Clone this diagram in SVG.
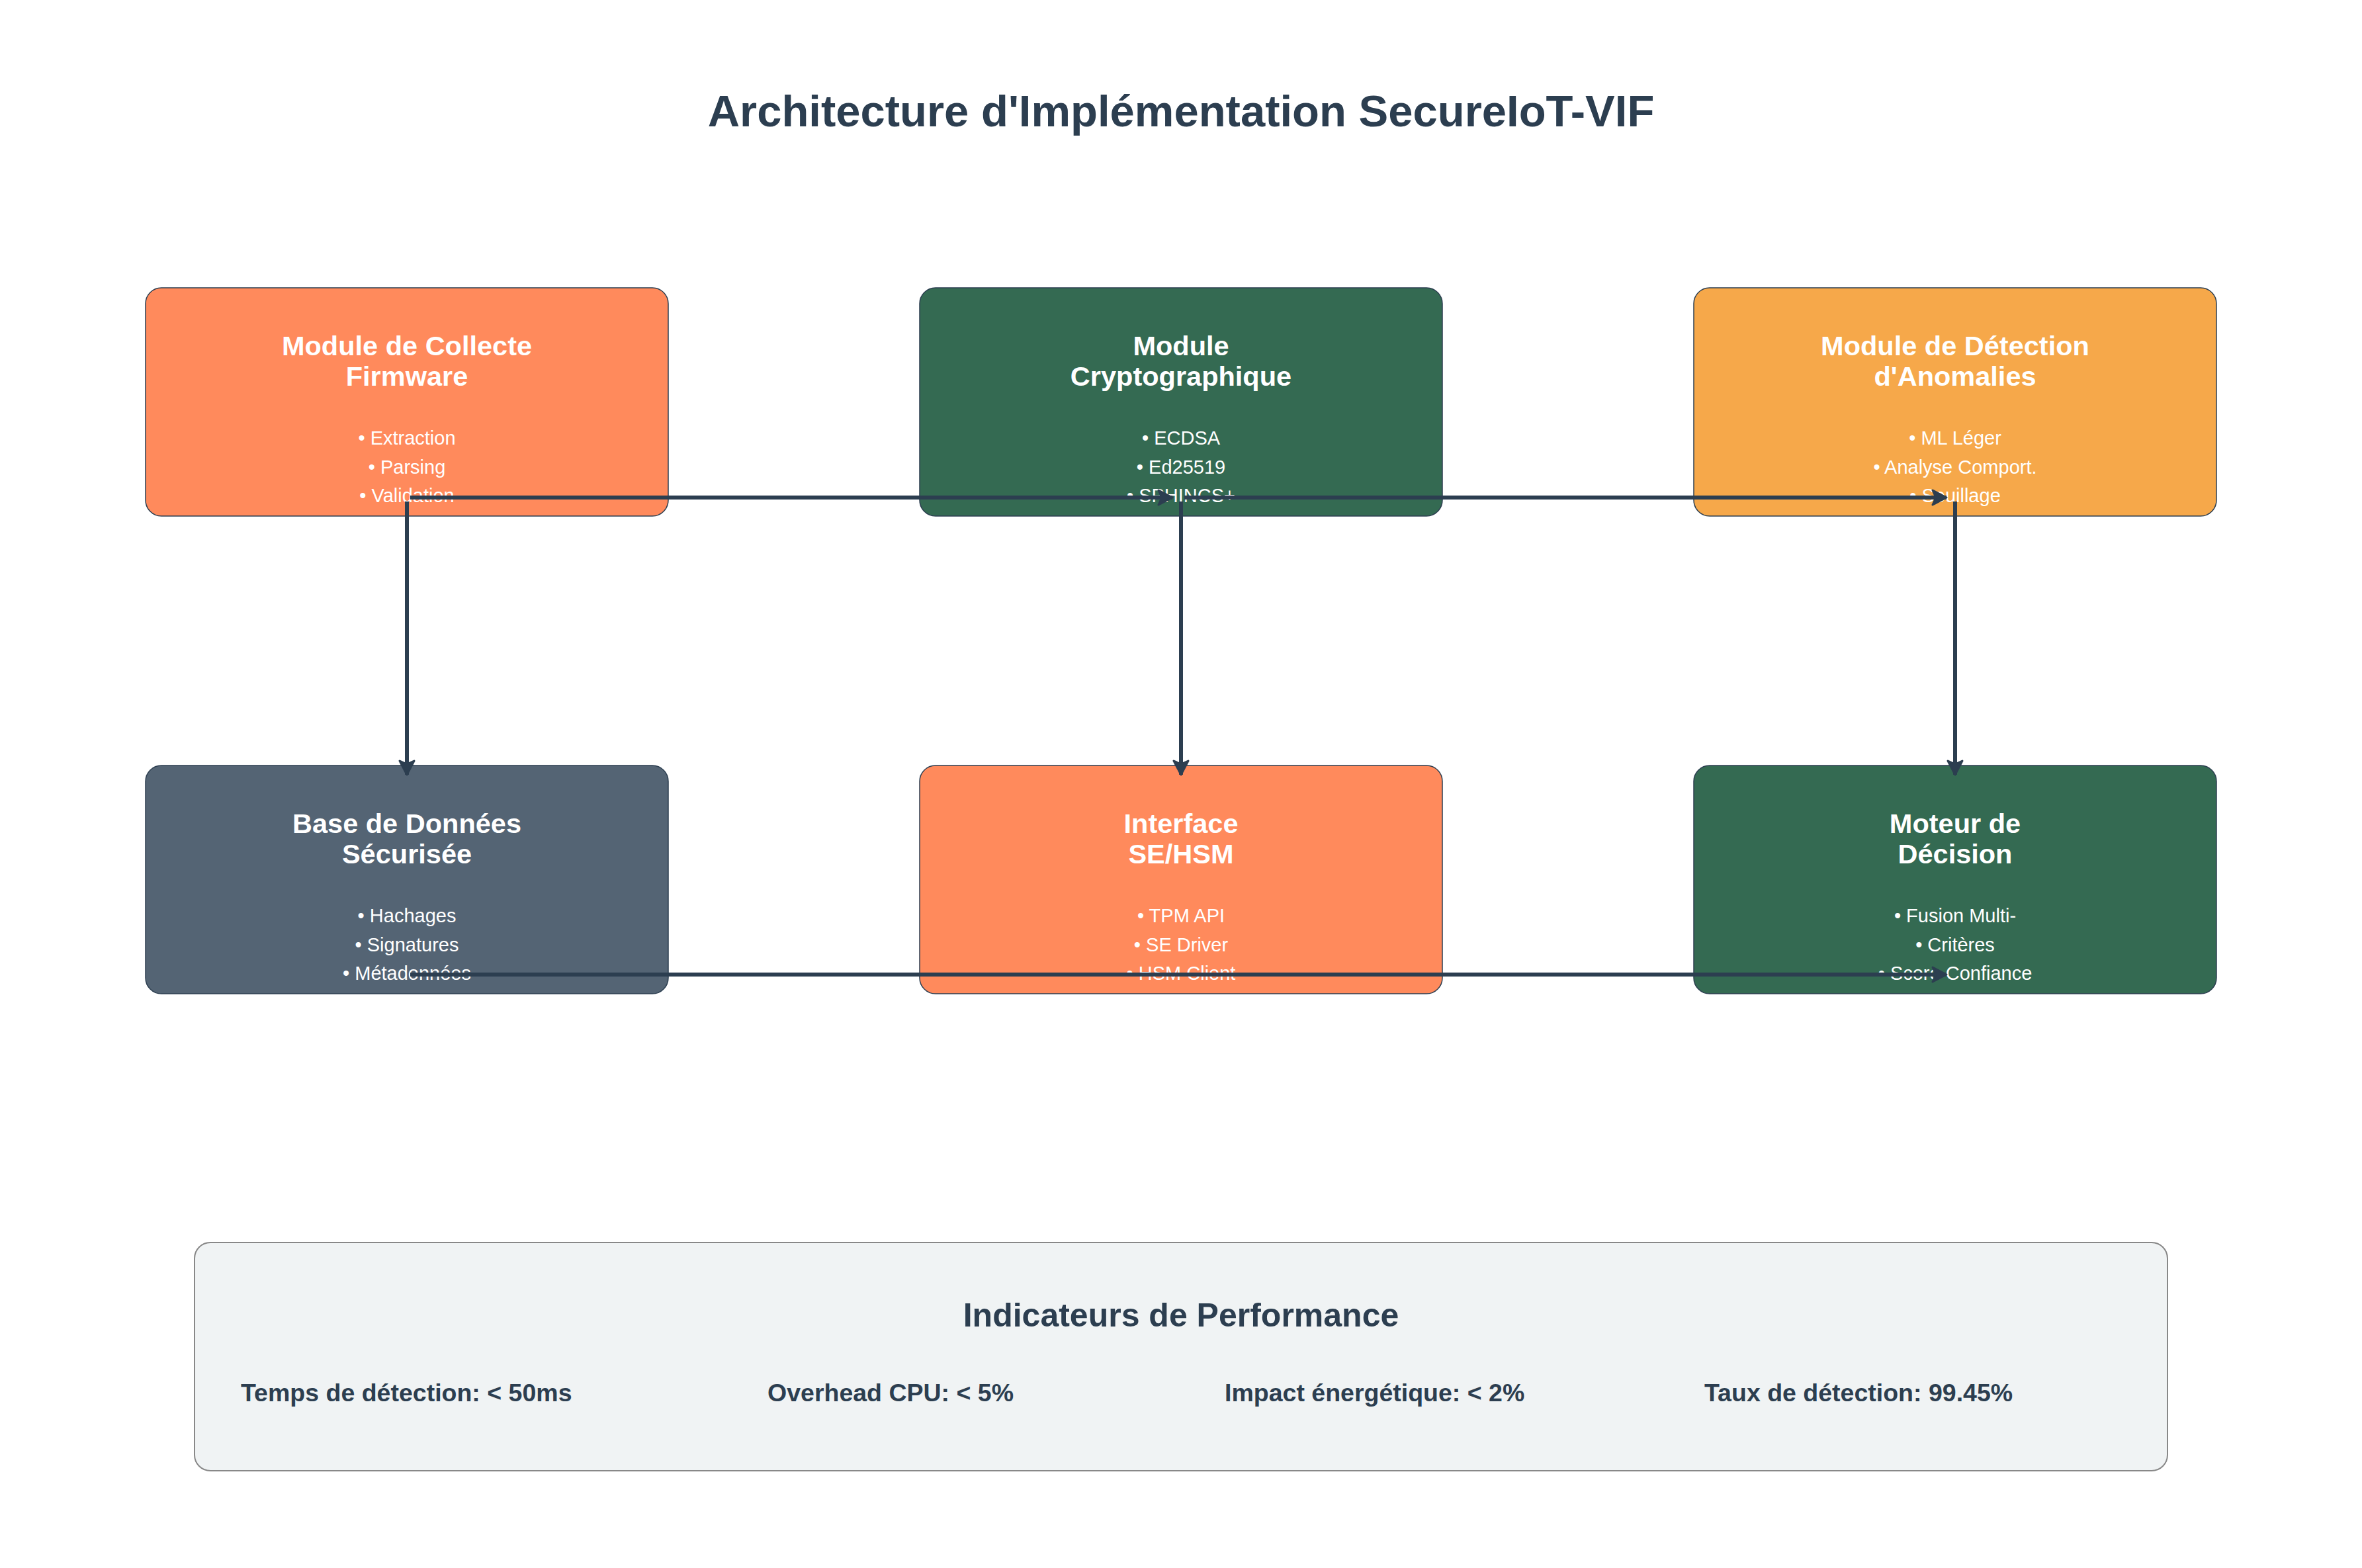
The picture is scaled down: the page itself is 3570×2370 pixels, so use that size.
<svg xmlns="http://www.w3.org/2000/svg" width="3570" height="2370" viewBox="0 0 3570 2370">
<style>
.box{stroke:#2c3e50;stroke-width:1.5}
.t{font-family:"Liberation Sans",Arial,sans-serif;fill:#ffffff;text-anchor:middle}
.h{font-size:41.5px;font-weight:bold}
.b{font-size:29px}
.d{font-family:"Liberation Sans",Arial,sans-serif;fill:#2c3e50;font-weight:bold}
.conn{stroke:#2c3e50;stroke-width:6;fill:none}
</style>
<defs>
<marker id="arr" markerUnits="userSpaceOnUse" markerWidth="30" markerHeight="28" refX="24" refY="14" orient="auto" viewBox="0 0 30 28">
<path d="M3,3 L24,14 L3,25 L8,14 z" fill="#2c3e50" stroke="#2c3e50" stroke-width="3" stroke-linejoin="round"/>
</marker>
</defs>
<rect width="3570" height="2370" fill="#ffffff"/>
<text class="d" x="1785" y="191" font-size="67" text-anchor="middle">Architecture d'Implémentation SecureIoT-VIF</text>

<g id="collecte">
<rect class="box" x="220" y="435" width="790" height="345" rx="24" fill="#ff8a5c"/>
<text class="t h" x="615" y="537">Module de Collecte</text>
<text class="t h" x="615" y="583">Firmware</text>
<text class="t b" x="615" y="672">• Extraction</text>
<text class="t b" x="615" y="716">• Parsing</text>
<text class="t b" x="615" y="759">• Validation</text>
</g>

<g id="crypto">
<rect class="box" x="1390" y="435" width="790" height="345" rx="24" fill="#346a52"/>
<text class="t h" x="1785" y="537">Module</text>
<text class="t h" x="1785" y="583">Cryptographique</text>
<text class="t b" x="1785" y="672">• ECDSA</text>
<text class="t b" x="1785" y="716">• Ed25519</text>
<text class="t b" x="1785" y="759">• SPHINCS+</text>
</g>

<g id="anomalies">
<rect class="box" x="2560" y="435" width="790" height="345" rx="24" fill="#f6a84a"/>
<text class="t h" x="2955" y="537">Module de Détection</text>
<text class="t h" x="2955" y="583">d'Anomalies</text>
<text class="t b" x="2955" y="672">• ML Léger</text>
<text class="t b" x="2955" y="716">• Analyse Comport.</text>
<text class="t b" x="2955" y="759">• Seuillage</text>
</g>

<g id="basedonnees">
<rect class="box" x="220" y="1157" width="790" height="345" rx="24" fill="#546474"/>
<text class="t h" x="615" y="1259">Base de Données</text>
<text class="t h" x="615" y="1305">Sécurisée</text>
<text class="t b" x="615" y="1394">• Hachages</text>
<text class="t b" x="615" y="1438">• Signatures</text>
<text class="t b" x="615" y="1481">• Métadonnées</text>
</g>

<g id="interface">
<rect class="box" x="1390" y="1157" width="790" height="345" rx="24" fill="#ff8a5c"/>
<text class="t h" x="1785" y="1259">Interface</text>
<text class="t h" x="1785" y="1305">SE/HSM</text>
<text class="t b" x="1785" y="1394">• TPM API</text>
<text class="t b" x="1785" y="1438">• SE Driver</text>
<text class="t b" x="1785" y="1481">• HSM Client</text>
</g>

<g id="decision">
<rect class="box" x="2560" y="1157" width="790" height="345" rx="24" fill="#346a52"/>
<text class="t h" x="2955" y="1259">Moteur de</text>
<text class="t h" x="2955" y="1305">Décision</text>
<text class="t b" x="2955" y="1394">• Fusion Multi-</text>
<text class="t b" x="2955" y="1438">• Critères</text>
<text class="t b" x="2955" y="1481">• Score Confiance</text>
</g>

<g id="connectors">
<line class="conn" x1="620" y1="752" x2="1772" y2="752" marker-end="url(#arr)"/>
<line class="conn" x1="1790" y1="752" x2="2942" y2="752" marker-end="url(#arr)"/>
<line class="conn" x1="615" y1="758" x2="615" y2="1171" marker-end="url(#arr)"/>
<line class="conn" x1="1785" y1="758" x2="1785" y2="1171" marker-end="url(#arr)"/>
<line class="conn" x1="2955" y1="758" x2="2955" y2="1171" marker-end="url(#arr)"/>
<line class="conn" x1="620" y1="1473" x2="2942" y2="1473" marker-end="url(#arr)"/>
</g>

<g id="performance">
<rect x="294" y="1878" width="2982" height="345" rx="24" fill="#f0f3f4" stroke="#888888" stroke-width="2"/>
<text class="d" x="1785" y="2005" font-size="50" text-anchor="middle">Indicateurs de Performance</text>
<text class="d" x="364" y="2118" font-size="37.5">Temps de détection: &lt; 50ms</text>
<text class="d" x="1160" y="2118" font-size="37.5">Overhead CPU: &lt; 5%</text>
<text class="d" x="1851" y="2118" font-size="37.5">Impact énergétique: &lt; 2%</text>
<text class="d" x="2576" y="2118" font-size="37.5">Taux de détection: 99.45%</text>
</g>
</svg>
